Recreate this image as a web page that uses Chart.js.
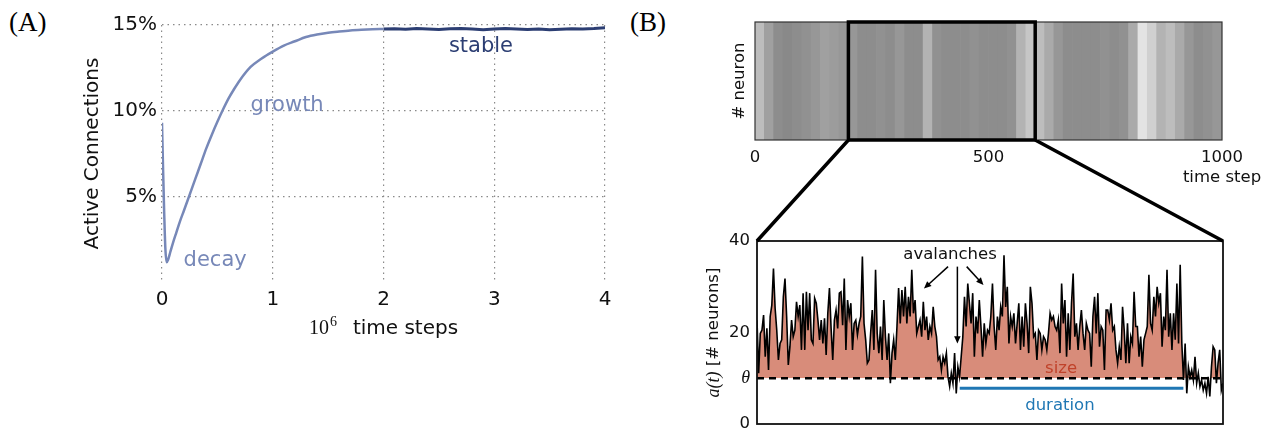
<!DOCTYPE html>
<html>
<head>
<meta charset="utf-8">
<script src="https://cdn.jsdelivr.net/npm/chart.js@4.4.1/dist/chart.umd.min.js"></script>
<style>
  html, body { margin: 0; padding: 0; background: #fff; }
  body { width: 1275px; height: 431px; position: relative; overflow: hidden; }
  canvas { position: absolute; }
  .panel { position: absolute; font-family: 'Liberation Serif', serif; font-size: 27px; line-height: 27px; color: #000; }
</style>
</head>
<body>
<div class="panel" style="left:9px;top:9px">(A)</div>
<div class="panel" style="left:630px;top:9px">(B)</div>
<canvas id="growth" width="640" height="431" style="left:0;top:0"></canvas>
<canvas id="raster" width="635" height="190" style="left:640px;top:0"></canvas>
<canvas id="activity" width="635" height="302" style="left:640px;top:140px"></canvas>
<script>
// (A) active connections, x in 10^6 time steps, y in %
const growthX = [0, 0.01, 0.02, 0.03, 0.042, 0.055, 0.075, 0.1, 0.13, 0.16, 0.2, 0.25, 0.3, 0.35, 0.4, 0.45,
  0.5, 0.55, 0.6, 0.65, 0.7, 0.8, 0.9, 1.0, 1.1, 1.2, 1.3, 1.4, 1.5, 1.6, 1.7, 1.8, 1.9, 2.0];
const growthY = [9.3, 6.5, 4.0, 2.0, 1.15, 1.3, 1.75, 2.3, 2.9, 3.5, 4.2, 5.1, 6.0, 6.9, 7.8, 8.6,
  9.35, 10.05, 10.7, 11.25, 11.75, 12.55, 13.05, 13.45, 13.8, 14.05, 14.3, 14.45, 14.55, 14.62, 14.68, 14.72, 14.75, 14.77];
const stableX = [2.0, 2.1, 2.2, 2.3, 2.4, 2.5, 2.6, 2.7, 2.8, 2.9, 3.0, 3.1, 3.2, 3.3, 3.4, 3.5, 3.6, 3.7, 3.8, 3.9, 4.0];
const stableY = [14.76, 14.78, 14.75, 14.79, 14.77, 14.74, 14.78, 14.8, 14.76, 14.73, 14.77, 14.79, 14.76, 14.74,
  14.77, 14.72, 14.75, 14.78, 14.77, 14.79, 14.84];

// (B) raster: firing density per 20-step bin, 0..1000
const rasterBinWidth = 20;
const rasterDensity = [0.35, 0.5, 0.6, 0.62, 0.6, 0.58, 0.55, 0.5, 0.52, 0.55,
  0.55, 0.6, 0.6, 0.58, 0.6, 0.55, 0.6, 0.6, 0.4, 0.58,
  0.6, 0.6, 0.6, 0.58, 0.6, 0.6, 0.6, 0.58, 0.4, 0.3,
  0.35, 0.45, 0.55, 0.6, 0.6, 0.6, 0.6, 0.58, 0.6, 0.58,
  0.45, 0.15, 0.25, 0.4, 0.35, 0.45, 0.55, 0.6, 0.58, 0.55];

// (B) zoom: a(t) between time step 200 and 600
const zoomStart = 200;
const zoomEnd = 600;
const theta = 10;
const activityTicks = [0, 10, 20, 40];
const avalancheStart = 374;
const avalancheEnd = 566;
const durationLevel = 7.8;
const activity = [
  22.7, 11.1, 19.8, 20.5, 23.8, 14.7, 20.9, 11.8, 23.5, 26.0, 34.0, 25.3, 20.5, 14.0, 17.6, 18.4, 27.8, 31.8,
  23.5, 12.9, 16.9, 22.7, 19.1, 20.5, 26.7, 23.5, 26.0, 16.2, 28.6, 16.2, 28.9, 20.5, 28.6, 18.4, 17.6, 27.5,
  26.4, 22.7, 18.4, 22.7, 17.6, 23.1, 15.1, 24.2, 29.7, 20.9, 14.0, 22.7, 24.9, 20.9, 28.6, 28.9, 21.6, 31.8,
  16.2, 27.1, 23.5, 26.4, 16.2, 22.0, 22.7, 19.5, 22.0, 23.5, 36.6, 22.0, 18.4, 13.3,
  14.0, 19.8, 24.9, 16.2, 33.7, 19.8, 15.5, 21.3, 14.0, 27.1, 19.1, 14.0, 19.8, 8.9, 15.5, 18.4, 14.0, 21.3,
  29.7, 22.0, 29.3, 23.5, 30.0, 22.0, 27.8, 23.5, 33.7, 24.2, 27.1, 19.8, 21.3, 22.7, 19.1, 26.7, 20.5, 23.5,
  18.4, 21.3, 19.8, 25.6, 21.3, 19.1, 14.0, 14.7, 11.8, 14.7, 13.3, 15.5, 10.3, 8.2, 11.1, 8.9, 15.5, 6.7,
  12.5, 10.3, 14.7, 19.1, 27.8, 21.3, 30.7, 26.4, 22.0, 28.6, 14.7, 23.5, 19.8, 27.1, 21.3, 14.7, 22.0, 17.6, 20.5,
  19.8, 23.5, 30.7, 21.3, 16.2, 23.5, 20.5, 25.6, 23.5, 36.9, 25.6, 30.0, 17.6, 23.5, 21.3, 24.2, 17.6, 22.0,
  26.4, 16.2, 23.5, 16.9, 26.4, 22.0, 15.5, 30.0, 26.4, 19.1, 19.8, 14.0, 20.5, 19.8, 16.2, 19.1, 18.4, 16.2,
  19.8, 24.2, 22.7, 23.5, 21.3, 20.5, 22.7, 15.5, 30.7, 22.0, 27.1, 14.7, 24.2, 16.2, 26.4, 32.9, 19.1, 22.0,
  16.2, 21.3, 24.9, 19.8, 16.2, 22.0, 20.5, 19.8, 12.5, 23.5, 27.8, 19.8, 28.6, 16.9, 21.3, 20.5, 11.8, 24.9,
  24.9, 22.7, 26.4, 20.5, 21.3, 16.2, 13.3, 16.9, 14.0, 25.6, 20.5, 13.3, 22.0, 13.3, 19.1, 17.6, 28.9, 21.3,
  21.3, 14.7, 19.1, 12.5, 18.4, 19.8, 21.3, 32.6, 22.0, 20.5, 27.8, 23.5, 30.0, 26.4, 28.6, 16.9, 23.5, 20.5,
  33.7, 19.1, 24.2, 16.2, 24.2, 18.4, 30.7, 17.6, 34.8, 17.6, 9.6, 17.6, 6.7, 12.5, 10.3, 11.8, 9.6, 14.7,
  8.9, 11.1, 8.2, 9.6, 7.4, 8.9, 6.7, 10.3, 6.0, 12.5, 16.9, 16.2, 8.9, 13.3, 16.2, 7.4, 8.9
];

const growthColor = '#7788b8';
const stableColor = '#2c3e73';
const gridColor = '#8a8a8a';
const sizeFill = '#d88c7a';
const sizeColor = '#c0422a';
const durationColor = '#1f77b4';
const inkColor = '#111';

Chart.defaults.font.family = "'DejaVu Sans', sans-serif";
Chart.defaults.color = inkColor;

function arrow(ctx, x0, y0, x1, y1) {
  const ang = Math.atan2(y1 - y0, x1 - x0);
  const head = 8;
  ctx.beginPath();
  ctx.moveTo(x0, y0);
  ctx.lineTo(x1 - Math.cos(ang) * head * 0.8, y1 - Math.sin(ang) * head * 0.8);
  ctx.stroke();
  ctx.beginPath();
  ctx.moveTo(x1, y1);
  ctx.lineTo(x1 - head * Math.cos(ang - 0.42), y1 - head * Math.sin(ang - 0.42));
  ctx.lineTo(x1 - head * Math.cos(ang + 0.42), y1 - head * Math.sin(ang + 0.42));
  ctx.closePath();
  ctx.fill();
}

// labels inside panel A + the mixed-font x title
const growthNotes = {
  id: 'growthNotes',
  afterDraw(chart) {
    const { ctx, chartArea, scales: { x, y } } = chart;
    ctx.save();
    ctx.textAlign = 'center';
    ctx.textBaseline = 'middle';
    ctx.font = "21px 'DejaVu Sans'";
    ctx.fillStyle = growthColor;
    ctx.fillText('growth', x.getPixelForValue(1.13), y.getPixelForValue(10.3));
    ctx.fillText('decay', x.getPixelForValue(0.48), y.getPixelForValue(1.25));
    ctx.fillStyle = stableColor;
    ctx.fillText('stable', x.getPixelForValue(2.88), y.getPixelForValue(13.75));

    // "10^6  time steps"
    const base = chartArea.bottom + 52;
    ctx.textAlign = 'left';
    ctx.textBaseline = 'alphabetic';
    ctx.fillStyle = inkColor;
    const fTen = "20px 'Liberation Serif'", fExp = "14px 'Liberation Serif'", fTxt = "20px 'DejaVu Sans'";
    ctx.font = fTen; const wTen = ctx.measureText('10').width;
    ctx.font = fExp; const wExp = ctx.measureText('6').width;
    ctx.font = fTxt; const wTxt = ctx.measureText('time steps').width;
    const gap = 17;
    let sx = x.getPixelForValue(2) - (wTen + wExp + gap + wTxt) / 2;
    ctx.font = fTen; ctx.fillText('10', sx, base);
    ctx.font = fExp; ctx.fillText('6', sx + wTen + 1, base - 8);
    ctx.font = fTxt; ctx.fillText('time steps', sx + wTen + wExp + gap, base);
    ctx.restore();
  }
};

new Chart(document.getElementById('growth'), {
  type: 'line',
  data: {
    datasets: [
      {
        data: growthX.map((v, i) => ({ x: v, y: growthY[i] })),
        borderColor: growthColor,
        borderWidth: 2.5,
        pointRadius: 0,
        cubicInterpolationMode: 'monotone',
      },
      {
        data: stableX.map((v, i) => ({ x: v, y: stableY[i] })),
        borderColor: stableColor,
        borderWidth: 3,
        pointRadius: 0,
      },
    ],
  },
  options: {
    responsive: false,
    animation: false,
    layout: { padding: { left: 77, top: 25, right: 35, bottom: 0 } },
    plugins: { legend: { display: false }, tooltip: { enabled: false } },
    scales: {
      x: {
        type: 'linear',
        min: 0,
        max: 4,
        afterFit: (s) => { s.height = 149; },
        ticks: { stepSize: 1, padding: 6, font: { size: 20 }, maxRotation: 0 },
        grid: { color: gridColor, lineWidth: 1.2, drawTicks: false },
        border: { display: false, dash: [1.5, 4] },
      },
      y: {
        min: 0,
        max: 15,
        afterFit: (s) => { s.width = 85; },
        ticks: {
          stepSize: 5,
          padding: 5,
          font: { size: 20 },
          callback: (v) => (v === 0 ? '' : v + '%'),
        },
        grid: {
          color: (c) => (c.tick && c.tick.value === 0 ? 'rgba(0,0,0,0)' : gridColor),
          lineWidth: 1.2,
          drawTicks: false,
        },
        border: { display: false, dash: [1.5, 4] },
        title: { display: true, text: 'Active Connections', font: { size: 20 }, padding: 4 },
      },
    },
  },
  plugins: [growthNotes],
});

// frame + zoom window on the raster
const rasterFrame = {
  id: 'rasterFrame',
  afterDraw(chart) {
    const { ctx, chartArea: a, scales: { x } } = chart;
    ctx.save();
    ctx.strokeStyle = '#333';
    ctx.lineWidth = 1.2;
    ctx.strokeRect(a.left, a.top, a.width, a.height);
    const x1 = x.getPixelForValue(zoomStart);
    const x2 = x.getPixelForValue(zoomEnd);
    ctx.strokeStyle = '#000';
    ctx.lineWidth = 3.5;
    ctx.strokeRect(x1, a.top, x2 - x1, a.height);
    ctx.restore();
  }
};

const shade = (d) => {
  const g = Math.round(255 - 190 * d);
  return `rgb(${g},${g},${g})`;
};

const rasterChart = new Chart(document.getElementById('raster'), {
  type: 'bar',
  data: {
    datasets: [{
      data: rasterDensity.map((d, i) => ({ x: (i + 0.5) * rasterBinWidth, y: [0, 1] })),
      backgroundColor: rasterDensity.map(shade),
      borderWidth: 0,
      barPercentage: 1,
      categoryPercentage: 1,
    }],
  },
  options: {
    responsive: false,
    animation: false,
    layout: { padding: { left: 86, top: 22, right: 53, bottom: 0 } },
    plugins: { legend: { display: false }, tooltip: { enabled: false } },
    scales: {
      x: {
        type: 'linear',
        offset: false,
        min: 0,
        max: 1000,
        afterFit: (s) => { s.height = 50; },
        ticks: {
          stepSize: 500,
          padding: 8,
          font: { size: 16.5 },
          maxRotation: 0,
          autoSkip: false,
          callback: (v) => (v === 1000 ? ['1000', 'time step'] : String(v)),
        },
        grid: { display: false, drawTicks: false },
        border: { display: false },
      },
      y: {
        min: 0,
        max: 1,
        afterFit: (s) => { s.width = 29; },
        ticks: { display: false },
        grid: { display: false, drawTicks: false },
        border: { display: false },
        title: { display: true, text: '# neuron', font: { size: 16.5 }, padding: 4 },
      },
    },
  },
  plugins: [rasterFrame],
});

// frame, connectors to the raster, y title and annotations
const activityNotes = {
  id: 'activityNotes',
  afterDraw(chart) {
    const { ctx, chartArea: a, scales: { x, y } } = chart;
    const rx = rasterChart.scales.x;
    ctx.save();
    ctx.strokeStyle = '#111';
    ctx.lineWidth = 1.8;
    ctx.strokeRect(a.left, a.top, a.width, a.height);

    // raster plot bottom edge == this canvas top edge
    ctx.strokeStyle = '#000';
    ctx.lineWidth = 3.5;
    ctx.beginPath();
    ctx.moveTo(rx.getPixelForValue(zoomStart), 0);
    ctx.lineTo(a.left, a.top);
    ctx.moveTo(rx.getPixelForValue(zoomEnd), 0);
    ctx.lineTo(a.right, a.top);
    ctx.stroke();

    ctx.fillStyle = inkColor;
    ctx.textAlign = 'center';
    ctx.textBaseline = 'middle';
    ctx.font = "16.5px 'DejaVu Sans'";
    ctx.fillText('avalanches', x.getPixelForValue(365.7), y.getPixelForValue(36.9));
    ctx.strokeStyle = '#000';
    ctx.fillStyle = '#000';
    ctx.lineWidth = 1.5;
    arrow(ctx, x.getPixelForValue(364), y.getPixelForValue(34.4), x.getPixelForValue(343.3), y.getPixelForValue(29.6));
    arrow(ctx, x.getPixelForValue(372), y.getPixelForValue(34.4), x.getPixelForValue(372), y.getPixelForValue(17.6));
    arrow(ctx, x.getPixelForValue(380), y.getPixelForValue(34.4), x.getPixelForValue(394.4), y.getPixelForValue(30.4));

    ctx.fillStyle = sizeColor;
    ctx.fillText('size', x.getPixelForValue(461), y.getPixelForValue(12.0));
    ctx.fillStyle = durationColor;
    ctx.fillText('duration', x.getPixelForValue(460), y.getPixelForValue(3.9));

    // a(t) [# neurons]
    ctx.fillStyle = inkColor;
    ctx.translate(a.left - 43, (a.top + a.bottom) / 2);
    ctx.rotate(-Math.PI / 2);
    ctx.textAlign = 'left';
    const f1 = "italic 18px 'Liberation Serif'", f2 = "16.5px 'DejaVu Sans'";
    ctx.font = f1; const w1 = ctx.measureText('a(t)').width;
    ctx.font = f2; const w2 = ctx.measureText(' [# neurons]').width;
    const sx = -(w1 + w2) / 2;
    ctx.font = f1; ctx.fillText('a(t)', sx, 0);
    ctx.font = f2; ctx.fillText(' [# neurons]', sx + w1, 0);
    ctx.restore();
  }
};

const stepPerPoint = (zoomEnd - zoomStart) / (activity.length - 1);

new Chart(document.getElementById('activity'), {
  type: 'line',
  data: {
    datasets: [
      {
        data: [{ x: zoomStart, y: theta }, { x: zoomEnd, y: theta }],
        borderColor: '#000',
        borderWidth: 2.5,
        borderDash: [7, 5],
        pointRadius: 0,
        fill: false,
      },
      {
        data: [{ x: avalancheStart, y: durationLevel }, { x: avalancheEnd, y: durationLevel }],
        borderColor: durationColor,
        borderWidth: 3,
        pointRadius: 0,
        fill: false,
      },
      {
        data: activity.map((v, i) => ({ x: zoomStart + i * stepPerPoint, y: v })),
        borderColor: '#000',
        borderWidth: 1.6,
        pointRadius: 0,
        tension: 0,
        fill: { target: { value: theta }, above: sizeFill, below: 'rgba(0,0,0,0)' },
      },
    ],
  },
  options: {
    responsive: false,
    animation: false,
    layout: { padding: { left: 0, top: 101, right: 52, bottom: 18 } },
    plugins: { legend: { display: false }, tooltip: { enabled: false } },
    scales: {
      x: { type: 'linear', min: zoomStart, max: zoomEnd, display: false },
      y: {
        min: 0,
        max: 40,
        afterFit: (s) => { s.width = 117; },
        afterBuildTicks: (s) => { s.ticks = activityTicks.map((v) => ({ value: v })); },
        ticks: {
          padding: 7,
          callback: (v) => (v === theta ? 'θ' : String(v)),
          font: (c) => (c.tick && c.tick.value === theta
            ? { family: "'Liberation Serif'", style: 'italic', size: 18 }
            : { size: 16.5 }),
        },
        grid: { display: false, drawTicks: false },
        border: { display: false },
      },
    },
  },
  plugins: [activityNotes],
});
</script>
</body>
</html>
